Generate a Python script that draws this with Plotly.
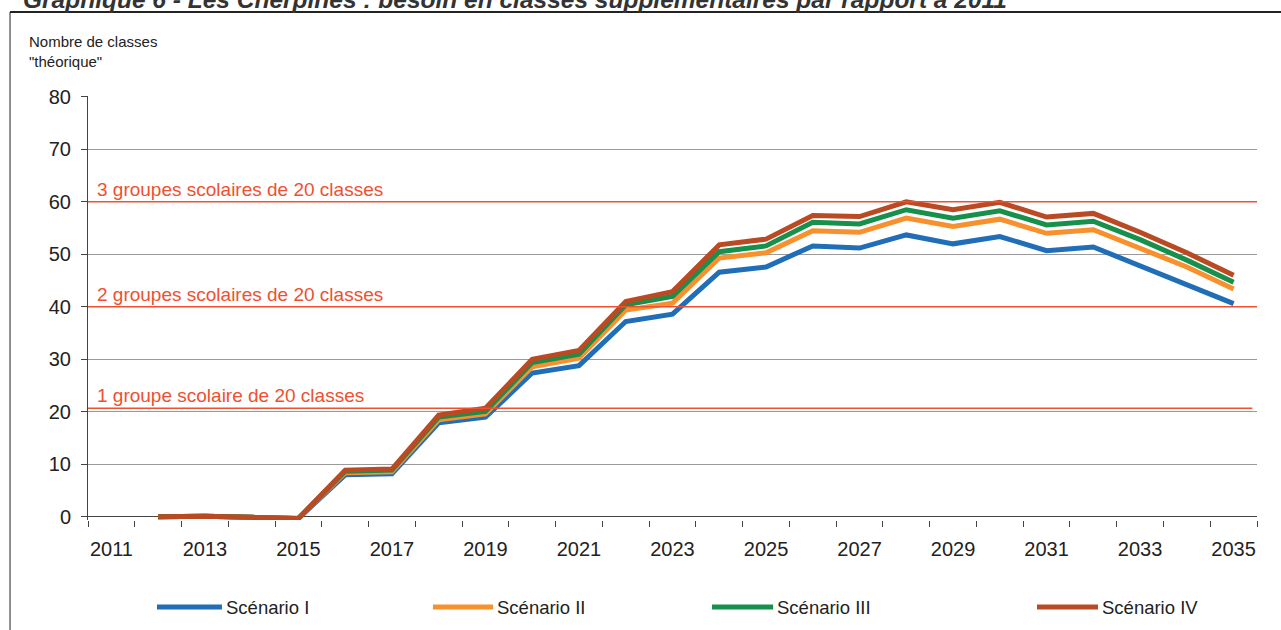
import plotly.graph_objects as go

# ---- data ----
years = list(range(2012, 2036))
scenario_1 = [0, 0.1, -0.1, -0.3, 8.0, 8.2, 17.9, 19.0, 27.4, 28.8, 37.2, 38.6,
              46.6, 47.6, 51.6, 51.2, 53.7, 52.0, 53.4, 50.7, 51.4, 47.8, 44.4, 40.6]
scenario_2 = [0, 0.1, -0.1, -0.3, 8.4, 8.6, 18.5, 19.6, 28.6, 30.2, 39.4, 40.7,
              49.3, 50.3, 54.5, 54.2, 56.9, 55.3, 56.7, 54.0, 54.7, 51.2, 47.6, 43.4]
scenario_3 = [0, 0.1, -0.1, -0.3, 8.7, 8.9, 19.0, 20.1, 29.4, 31.0, 40.4, 42.0,
              50.5, 51.6, 56.1, 55.8, 58.5, 56.9, 58.3, 55.6, 56.3, 52.8, 48.9, 44.7]
scenario_4 = [0, 0.1, -0.1, -0.3, 8.9, 9.1, 19.4, 20.7, 30.0, 31.7, 41.0, 42.9,
              51.8, 52.9, 57.4, 57.2, 60.0, 58.5, 59.9, 57.1, 57.8, 54.2, 50.3, 46.0]
series_names = ["Scénario I", "Scénario II", "Scénario III", "Scénario IV"]
series_colors = ["#1F6EB7", "#F7902D", "#16904A", "#B94A24"]
tick_years = list(range(2011, 2036, 2))
y_ticks = list(range(0, 81, 10))
thresholds = [20.7, 40, 60]
threshold_labels = ["1 groupe scolaire de 20 classes",
                    "2 groupes scolaires de 20 classes",
                    "3 groupes scolaires de 20 classes"]
title_text = "Graphique 6 - Les Cherpines : besoin en classes supplémentaires par rapport à 2011"
y_title = "Nombre de classes<br>\"théorique\""

FONT = "Liberation Sans, Arial, sans-serif"
RED = "#EF5030"

fig = go.Figure()
for name, vals, col in zip(series_names, [scenario_1, scenario_2, scenario_3, scenario_4], series_colors):
    fig.add_trace(go.Scatter(x=years, y=vals, name=name, mode="lines",
                             line=dict(color=col, width=5), showlegend=False))

shapes = []
annotations = []
for v, lab in zip(thresholds, threshold_labels):
    shapes.append(dict(type="line", xref="paper", yref="y", x0=0, x1=0.996 if v < 30 else 1,
                       y0=v, y1=v, line=dict(color=RED, width=1.5), layer="above"))
    annotations.append(dict(xref="paper", yref="y", x=0.006, y=v, xanchor="left",
                            yanchor="bottom", yshift=0, showarrow=False, text=lab,
                            font=dict(family=FONT, size=19, color=RED)))

# frame lines (page border)
shapes.append(dict(type="line", xref="paper", yref="paper", x0=-0.0667, x1=1.1,
                   y0=1.198, y1=1.198, line=dict(color="#222", width=2)))
shapes.append(dict(type="line", xref="paper", yref="paper", x0=-0.0667, x1=-0.0667,
                   y0=1.198, y1=-0.4, line=dict(color="#222", width=1)))

# manual legend
leg_y = -0.2052
leg_x = [(0.059, 0.1146), (0.2951, 0.3465), (0.5338, 0.5860), (0.8118, 0.8640)]
for (a, b), name, col in zip(leg_x, series_names, series_colors):
    shapes.append(dict(type="line", xref="paper", yref="paper", x0=a, x1=b,
                       y0=leg_y, y1=leg_y, line=dict(color=col, width=5)))
    annotations.append(dict(xref="paper", yref="paper", x=b + 0.0015, y=leg_y,
                            xanchor="left", yanchor="middle", showarrow=False, text=name,
                            font=dict(family=FONT, size=18.5, color="#222")))

annotations.append(dict(xref="paper", yref="paper", x=-0.0522, y=1.153, xanchor="left",
                        yanchor="top", showarrow=False, text=y_title, align="left",
                        font=dict(family=FONT, size=15, color="#222")))
annotations.append(dict(xref="paper", yref="paper", x=-0.057, y=1.1905, xanchor="left",
                        yanchor="bottom", showarrow=False,
                        text="<b><i>" + title_text + "</i></b>",
                        font=dict(family=FONT, size=24.5, color="#333")))

fig.update_layout(
    width=1281, height=630,
    margin=dict(l=88, r=24, t=96, b=110),
    paper_bgcolor="white", plot_bgcolor="white",
    font=dict(family=FONT, color="#222"),
    shapes=shapes, annotations=annotations,
    xaxis=dict(range=[2010.5, 2035.5], tickvals=tick_years,
               ticktext=[str(y) for y in tick_years], ticks="",
               showgrid=False, zeroline=False, showline=False,
               tickfont=dict(size=20, color="#222"), ticklabelstandoff=15,
               minor=dict(ticks="outside", ticklen=6, tickcolor="#444",
                          tick0=2010.5, dtick=1, showgrid=False)),
    yaxis=dict(range=[-0.6, 80.16], tickvals=y_ticks, showgrid=True, gridcolor="#9a9a9a",
               zeroline=True, zerolinecolor="#444", zerolinewidth=1,
               showline=True, linecolor="#444", ticks="outside",
               ticklen=6, tickcolor="#444", tickfont=dict(size=20, color="#222"),
               ticklabelstandoff=6),
)

fig.write_html("out.html", config={"displayModeBar": False},
               post_script="document.body.style.margin='0';")
